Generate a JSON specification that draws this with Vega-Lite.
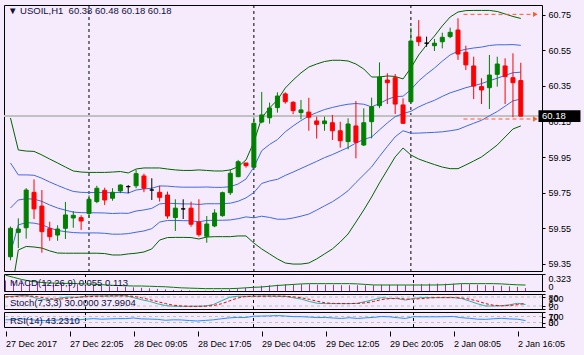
{
"$schema":"https://vega.github.io/schema/vega-lite/v6.json",
"autosize":{"type":"none"},
"padding":{"left":4,"top":5,"right":580,"bottom":350},
"background":"#F6EBFC",
"config":{
 "view":{"stroke":"#000000","strokeWidth":1},
 "font":"Liberation Sans",
 "axis":{"labelFont":"Liberation Sans","labelFontSize":9,"labelColor":"#000000","tickColor":"#000000","domain":false,"grid":false,"labelOverlap":false},
 "title":{"font":"Liberation Sans","fontSize":9.5,"fontWeight":"normal","color":"#10103a","anchor":"start","frame":"group","baseline":"middle"}
},
"datasets":{
 "seps":[{"s":10},{"s":31},{"s":51}],
 "lv":[{"p":60.752},{"p":60.164}],
 "bars":[
{"i":0,"o":59.39,"h":59.56,"l":59.37,"c":59.55,"d":"up","gu":60.170,"bu":59.917,"m":59.664,"bl":59.411,"gl":59.158,"md":0.20,"sg":0.30,"st":82,"ss":80,"rs":48},
{"i":1,"o":59.527,"h":59.606,"l":59.439,"c":59.546,"d":"up","gu":59.990,"bu":59.850,"m":59.709,"bl":59.569,"gl":59.428,"md":0.19,"sg":0.26,"st":85,"ss":82,"rs":49},
{"i":2,"o":59.553,"h":59.776,"l":59.492,"c":59.765,"d":"up","gu":59.984,"bu":59.850,"m":59.716,"bl":59.582,"gl":59.448,"md":0.19,"sg":0.22,"st":90,"ss":86,"rs":55},
{"i":3,"o":59.752,"h":59.825,"l":59.602,"c":59.659,"d":"down","gu":59.982,"bu":59.848,"m":59.714,"bl":59.579,"gl":59.445,"md":0.19,"sg":0.19,"st":86,"ss":87,"rs":50},
{"i":4,"o":59.675,"h":59.765,"l":59.413,"c":59.531,"d":"down","gu":59.962,"bu":59.831,"m":59.701,"bl":59.570,"gl":59.439,"md":0.18,"sg":0.17,"st":70,"ss":82,"rs":44},
{"i":5,"o":59.548,"h":59.587,"l":59.480,"c":59.503,"d":"down","gu":59.939,"bu":59.810,"m":59.681,"bl":59.552,"gl":59.423,"md":0.17,"sg":0.155,"st":62,"ss":73,"rs":43},
{"i":6,"o":59.512,"h":59.567,"l":59.480,"c":59.546,"d":"up","gu":59.917,"bu":59.791,"m":59.664,"bl":59.538,"gl":59.411,"md":0.16,"sg":0.15,"st":65,"ss":66,"rs":45},
{"i":7,"o":59.550,"h":59.698,"l":59.490,"c":59.625,"d":"up","gu":59.894,"bu":59.773,"m":59.652,"bl":59.531,"gl":59.410,"md":0.15,"sg":0.145,"st":75,"ss":67,"rs":48},
{"i":8,"o":59.608,"h":59.647,"l":59.553,"c":59.623,"d":"up","gu":59.872,"bu":59.757,"m":59.641,"bl":59.526,"gl":59.410,"md":0.14,"sg":0.145,"st":80,"ss":73,"rs":48},
{"i":9,"o":59.610,"h":59.623,"l":59.541,"c":59.591,"d":"down","gu":59.866,"bu":59.752,"m":59.638,"bl":59.524,"gl":59.410,"md":0.13,"sg":0.14,"st":78,"ss":78,"rs":47},
{"i":10,"o":59.634,"h":59.735,"l":59.610,"c":59.713,"d":"up","gu":59.864,"bu":59.751,"m":59.637,"bl":59.524,"gl":59.410,"md":0.12,"sg":0.135,"st":85,"ss":81,"rs":52},
{"i":11,"o":59.700,"h":59.789,"l":59.691,"c":59.775,"d":"up","gu":59.864,"bu":59.751,"m":59.637,"bl":59.524,"gl":59.410,"md":0.11,"sg":0.13,"st":88,"ss":84,"rs":56},
{"i":12,"o":59.763,"h":59.778,"l":59.681,"c":59.709,"d":"down","gu":59.864,"bu":59.750,"m":59.636,"bl":59.522,"gl":59.408,"md":0.10,"sg":0.12,"st":86,"ss":86,"rs":52},
{"i":13,"o":59.719,"h":59.775,"l":59.705,"c":59.752,"d":"up","gu":59.866,"bu":59.750,"m":59.633,"bl":59.517,"gl":59.400,"md":0.09,"sg":0.11,"st":87,"ss":87,"rs":54},
{"i":14,"o":59.760,"h":59.797,"l":59.747,"c":59.793,"d":"up","gu":59.869,"bu":59.752,"m":59.635,"bl":59.517,"gl":59.400,"md":0.08,"sg":0.105,"st":88,"ss":87,"rs":56},
{"i":15,"o":59.784,"h":59.793,"l":59.747,"c":59.784,"d":"doji","gu":59.861,"bu":59.748,"m":59.634,"bl":59.520,"gl":59.406,"md":0.08,"sg":0.10,"st":88,"ss":88,"rs":56},
{"i":16,"o":59.789,"h":59.878,"l":59.775,"c":59.857,"d":"up","gu":59.883,"bu":59.765,"m":59.647,"bl":59.528,"gl":59.410,"md":0.07,"sg":0.095,"st":76,"ss":84,"rs":60},
{"i":17,"o":59.844,"h":59.857,"l":59.753,"c":59.775,"d":"down","gu":59.889,"bu":59.771,"m":59.653,"bl":59.535,"gl":59.417,"md":0.06,"sg":0.095,"st":62,"ss":75,"rs":54},
{"i":18,"o":59.765,"h":59.831,"l":59.709,"c":59.765,"d":"doji","gu":59.889,"bu":59.775,"m":59.662,"bl":59.548,"gl":59.434,"md":0.05,"sg":0.09,"st":51,"ss":63,"rs":53},
{"i":19,"o":59.752,"h":59.789,"l":59.700,"c":59.724,"d":"down","gu":59.889,"bu":59.788,"m":59.687,"bl":59.585,"gl":59.484,"md":0.04,"sg":0.085,"st":35,"ss":49,"rs":51},
{"i":20,"o":59.737,"h":59.756,"l":59.604,"c":59.619,"d":"down","gu":59.883,"bu":59.787,"m":59.691,"bl":59.594,"gl":59.498,"md":0.03,"sg":0.08,"st":23,"ss":36,"rs":45},
{"i":21,"o":59.610,"h":59.713,"l":59.535,"c":59.663,"d":"up","gu":59.878,"bu":59.783,"m":59.689,"bl":59.594,"gl":59.499,"md":0.02,"sg":0.07,"st":18,"ss":25,"rs":48},
{"i":22,"o":59.659,"h":59.713,"l":59.602,"c":59.659,"d":"doji","gu":59.875,"bu":59.781,"m":59.687,"bl":59.593,"gl":59.499,"md":0.02,"sg":0.06,"st":18,"ss":20,"rs":47},
{"i":23,"o":59.663,"h":59.700,"l":59.559,"c":59.573,"d":"down","gu":59.875,"bu":59.781,"m":59.687,"bl":59.592,"gl":59.498,"md":0.01,"sg":0.055,"st":18,"ss":18,"rs":43},
{"i":24,"o":59.585,"h":59.713,"l":59.503,"c":59.514,"d":"down","gu":59.878,"bu":59.781,"m":59.684,"bl":59.587,"gl":59.490,"md":0.005,"sg":0.05,"st":18,"ss":18,"rs":40},
{"i":25,"o":59.505,"h":59.619,"l":59.469,"c":59.574,"d":"up","gu":59.875,"bu":59.782,"m":59.688,"bl":59.594,"gl":59.501,"md":0.005,"sg":0.045,"st":20,"ss":19,"rs":44},
{"i":26,"o":59.563,"h":59.657,"l":59.556,"c":59.636,"d":"up","gu":59.872,"bu":59.780,"m":59.688,"bl":59.595,"gl":59.503,"md":0.01,"sg":0.045,"st":30,"ss":23,"rs":48},
{"i":27,"o":59.621,"h":59.756,"l":59.615,"c":59.750,"d":"up","gu":59.872,"bu":59.780,"m":59.688,"bl":59.595,"gl":59.503,"md":0.02,"sg":0.045,"st":55,"ss":35,"rs":55},
{"i":28,"o":59.750,"h":59.881,"l":59.737,"c":59.859,"d":"up","gu":59.878,"bu":59.784,"m":59.691,"bl":59.597,"gl":59.503,"md":0.03,"sg":0.045,"st":78,"ss":54,"rs":61},
{"i":29,"o":59.840,"h":59.934,"l":59.837,"c":59.924,"d":"up","gu":59.896,"bu":59.799,"m":59.702,"bl":59.604,"gl":59.507,"md":0.05,"sg":0.05,"st":85,"ss":73,"rs":64},
{"i":30,"o":59.917,"h":59.917,"l":59.891,"c":59.902,"d":"down","gu":59.934,"bu":59.827,"m":59.721,"bl":59.614,"gl":59.507,"md":0.06,"sg":0.06,"st":85,"ss":83,"rs":63},
{"i":31,"o":59.893,"h":60.174,"l":59.887,"c":60.140,"d":"up","gu":60.035,"bu":59.893,"m":59.751,"bl":59.609,"gl":59.467,"md":0.08,"sg":0.07,"st":85,"ss":85,"rs":72},
{"i":32,"o":60.147,"h":60.316,"l":60.140,"c":60.187,"d":"up","gu":60.170,"bu":59.986,"m":59.802,"bl":59.618,"gl":59.434,"md":0.10,"sg":0.076,"st":86,"ss":85,"rs":73},
{"i":33,"o":60.171,"h":60.256,"l":60.138,"c":60.226,"d":"up","gu":60.226,"bu":60.021,"m":59.816,"bl":59.611,"gl":59.406,"md":0.11,"sg":0.09,"st":86,"ss":86,"rs":74},
{"i":34,"o":60.228,"h":60.314,"l":60.200,"c":60.293,"d":"up","gu":60.271,"bu":60.048,"m":59.825,"bl":59.601,"gl":59.378,"md":0.12,"sg":0.105,"st":85,"ss":86,"rs":76},
{"i":35,"o":60.305,"h":60.314,"l":60.250,"c":60.261,"d":"down","gu":60.338,"bu":60.092,"m":59.847,"bl":59.601,"gl":59.355,"md":0.13,"sg":0.115,"st":84,"ss":85,"rs":73},
{"i":36,"o":60.258,"h":60.264,"l":60.191,"c":60.211,"d":"down","gu":60.383,"bu":60.125,"m":59.866,"bl":59.608,"gl":59.349,"md":0.13,"sg":0.125,"st":75,"ss":81,"rs":69},
{"i":37,"o":60.200,"h":60.271,"l":60.163,"c":60.215,"d":"up","gu":60.423,"bu":60.155,"m":59.886,"bl":59.618,"gl":59.349,"md":0.13,"sg":0.135,"st":66,"ss":75,"rs":69},
{"i":38,"o":60.203,"h":60.283,"l":60.098,"c":60.174,"d":"down","gu":60.456,"bu":60.181,"m":59.906,"bl":59.630,"gl":59.355,"md":0.13,"sg":0.14,"st":50,"ss":64,"rs":66},
{"i":39,"o":60.153,"h":60.177,"l":60.054,"c":60.134,"d":"down","gu":60.473,"bu":60.200,"m":59.926,"bl":59.652,"gl":59.378,"md":0.12,"sg":0.14,"st":38,"ss":51,"rs":63},
{"i":40,"o":60.138,"h":60.177,"l":60.098,"c":60.153,"d":"up","gu":60.487,"bu":60.217,"m":59.947,"bl":59.676,"gl":59.406,"md":0.12,"sg":0.14,"st":36,"ss":41,"rs":64},
{"i":41,"o":60.143,"h":60.187,"l":60.046,"c":60.098,"d":"down","gu":60.494,"bu":60.229,"m":59.964,"bl":59.699,"gl":59.434,"md":0.12,"sg":0.14,"st":36,"ss":37,"rs":60},
{"i":42,"o":60.098,"h":60.149,"l":60.003,"c":60.042,"d":"down","gu":60.494,"bu":60.239,"m":59.984,"bl":59.728,"gl":59.473,"md":0.11,"sg":0.14,"st":36,"ss":36,"rs":57},
{"i":43,"o":60.037,"h":60.168,"l":59.994,"c":60.136,"d":"up","gu":60.490,"bu":60.247,"m":60.004,"bl":59.761,"gl":59.518,"md":0.11,"sg":0.14,"st":36,"ss":36,"rs":62},
{"i":44,"o":60.125,"h":60.265,"l":59.943,"c":60.033,"d":"down","gu":60.473,"bu":60.251,"m":60.029,"bl":59.807,"gl":59.585,"md":0.11,"sg":0.135,"st":38,"ss":37,"rs":57},
{"i":45,"o":60.018,"h":60.224,"l":60.012,"c":60.143,"d":"up","gu":60.445,"bu":60.247,"m":60.049,"bl":59.851,"gl":59.653,"md":0.11,"sg":0.125,"st":50,"ss":41,"rs":61},
{"i":46,"o":60.149,"h":60.284,"l":60.055,"c":60.233,"d":"up","gu":60.400,"bu":60.232,"m":60.063,"bl":59.895,"gl":59.726,"md":0.11,"sg":0.115,"st":62,"ss":50,"rs":64},
{"i":47,"o":60.239,"h":60.482,"l":60.225,"c":60.400,"d":"up","gu":60.400,"bu":60.251,"m":60.103,"bl":59.954,"gl":59.805,"md":0.12,"sg":0.114,"st":76,"ss":63,"rs":70},
{"i":48,"o":60.383,"h":60.421,"l":60.248,"c":60.368,"d":"down","gu":60.406,"bu":60.274,"m":60.142,"bl":60.010,"gl":59.878,"md":0.12,"sg":0.114,"st":70,"ss":69,"rs":68},
{"i":49,"o":60.396,"h":60.417,"l":60.192,"c":60.248,"d":"down","gu":60.403,"bu":60.290,"m":60.177,"bl":60.064,"gl":59.951,"md":0.12,"sg":0.114,"st":69,"ss":72,"rs":62},
{"i":50,"o":60.243,"h":60.280,"l":60.136,"c":60.140,"d":"down","gu":60.389,"bu":60.292,"m":60.195,"bl":60.098,"gl":60.001,"md":0.11,"sg":0.114,"st":60,"ss":66,"rs":57},
{"i":51,"o":60.261,"h":60.677,"l":60.252,"c":60.602,"d":"up","gu":60.451,"bu":60.329,"m":60.207,"bl":60.084,"gl":59.962,"md":0.13,"sg":0.114,"st":70,"ss":66,"rs":69},
{"i":52,"o":60.625,"h":60.720,"l":60.574,"c":60.598,"d":"down","gu":60.524,"bu":60.378,"m":60.232,"bl":60.085,"gl":59.939,"md":0.13,"sg":0.114,"st":76,"ss":69,"rs":68},
{"i":53,"o":60.590,"h":60.627,"l":60.570,"c":60.590,"d":"doji","gu":60.580,"bu":60.416,"m":60.252,"bl":60.087,"gl":59.923,"md":0.14,"sg":0.114,"st":76,"ss":74,"rs":68},
{"i":54,"o":60.576,"h":60.614,"l":60.546,"c":60.590,"d":"up","gu":60.630,"bu":60.450,"m":60.269,"bl":60.089,"gl":59.908,"md":0.14,"sg":0.115,"st":76,"ss":76,"rs":68},
{"i":55,"o":60.598,"h":60.649,"l":60.561,"c":60.623,"d":"up","gu":60.687,"bu":60.489,"m":60.291,"bl":60.092,"gl":59.894,"md":0.14,"sg":0.12,"st":76,"ss":76,"rs":69},
{"i":56,"o":60.627,"h":60.677,"l":60.618,"c":60.651,"d":"up","gu":60.737,"bu":60.524,"m":60.311,"bl":60.098,"gl":59.885,"md":0.14,"sg":0.13,"st":76,"ss":76,"rs":70},
{"i":57,"o":60.664,"h":60.730,"l":60.496,"c":60.529,"d":"down","gu":60.765,"bu":60.545,"m":60.325,"bl":60.105,"gl":59.885,"md":0.14,"sg":0.14,"st":70,"ss":74,"rs":62},
{"i":58,"o":60.539,"h":60.576,"l":60.439,"c":60.468,"d":"down","gu":60.773,"bu":60.556,"m":60.340,"bl":60.123,"gl":59.906,"md":0.13,"sg":0.14,"st":53,"ss":66,"rs":58},
{"i":59,"o":60.462,"h":60.514,"l":60.276,"c":60.349,"d":"down","gu":60.774,"bu":60.563,"m":60.351,"bl":60.140,"gl":59.928,"md":0.12,"sg":0.14,"st":35,"ss":53,"rs":52},
{"i":60,"o":60.346,"h":60.393,"l":60.248,"c":60.327,"d":"down","gu":60.774,"bu":60.568,"m":60.363,"bl":60.157,"gl":59.951,"md":0.11,"sg":0.14,"st":20,"ss":36,"rs":51},
{"i":61,"o":60.340,"h":60.524,"l":60.220,"c":60.411,"d":"up","gu":60.774,"bu":60.577,"m":60.379,"bl":60.182,"gl":59.984,"md":0.10,"sg":0.14,"st":20,"ss":25,"rs":55},
{"i":62,"o":60.415,"h":60.514,"l":60.346,"c":60.473,"d":"up","gu":60.768,"bu":60.581,"m":60.393,"bl":60.206,"gl":60.018,"md":0.10,"sg":0.135,"st":22,"ss":21,"rs":58},
{"i":63,"o":60.462,"h":60.505,"l":60.248,"c":60.402,"d":"down","gu":60.754,"bu":60.581,"m":60.409,"bl":60.236,"gl":60.063,"md":0.09,"sg":0.125,"st":28,"ss":23,"rs":54},
{"i":64,"o":60.396,"h":60.533,"l":60.174,"c":60.368,"d":"down","gu":60.740,"bu":60.582,"m":60.424,"bl":60.266,"gl":60.108,"md":0.08,"sg":0.118,"st":38,"ss":29,"rs":52},
{"i":65,"o":60.38,"h":60.48,"l":60.18,"c":60.18,"d":"down","gu":60.729,"bu":60.578,"m":60.427,"bl":60.276,"gl":60.125,"md":0.055,"sg":0.113,"st":30,"ss":37.99,"rs":43.23}
 ]
},
"spacing":3,
"bounds":"flush",
"vconcat":[
 {
  "width":538,"height":266,
  "title":{"text":"▼ USOIL,H1\u00a0\u00a060.38 60.48 60.18 60.18","dx":4,"offset":-11.3},
  "data":{"name":"bars"},
  "layer":[
   {"data":{"name":"seps"},"mark":{"type":"rule","color":"#000000","strokeDash":[3,3]},
    "encoding":{"x":{"field":"s","type":"quantitative","scale":{"domain":[-0.1875,67.0625],"nice":false,"zero":false},"axis":null}}},
   {"mark":{"type":"rule","color":"#C0C0C0"},
    "encoding":{"y":{"datum":60.18,"type":"quantitative","scale":{"domain":[59.3101,60.8045],"nice":false,"zero":false},
     "axis":{"orient":"right","values":[59.35,59.55,59.75,59.95,60.15,60.35,60.55,60.75],"format":".2f","tickSize":3,"labelPadding":3,"title":null}}}},
   {"mark":{"type":"line","color":"#006400","strokeWidth":1,"clip":true},
    "encoding":{"x":{"field":"i","type":"quantitative","axis":null},"y":{"field":"gu","type":"quantitative","axis":{"orient":"right","values":[59.35,59.55,59.75,59.95,60.15,60.35,60.55,60.75],"format":".2f","tickSize":3,"labelPadding":3,"title":null}}}},
   {"mark":{"type":"line","color":"#006400","strokeWidth":1,"clip":true},
    "encoding":{"x":{"field":"i","type":"quantitative","axis":null},"y":{"field":"gl","type":"quantitative","axis":{"orient":"right","values":[59.35,59.55,59.75,59.95,60.15,60.35,60.55,60.75],"format":".2f","tickSize":3,"labelPadding":3,"title":null}}}},
   {"mark":{"type":"line","color":"#4169E1","strokeWidth":1,"clip":true},
    "encoding":{"x":{"field":"i","type":"quantitative","axis":null},"y":{"field":"bu","type":"quantitative","axis":{"orient":"right","values":[59.35,59.55,59.75,59.95,60.15,60.35,60.55,60.75],"format":".2f","tickSize":3,"labelPadding":3,"title":null}}}},
   {"mark":{"type":"line","color":"#4169E1","strokeWidth":1,"clip":true},
    "encoding":{"x":{"field":"i","type":"quantitative","axis":null},"y":{"field":"m","type":"quantitative","axis":{"orient":"right","values":[59.35,59.55,59.75,59.95,60.15,60.35,60.55,60.75],"format":".2f","tickSize":3,"labelPadding":3,"title":null}}}},
   {"mark":{"type":"line","color":"#4169E1","strokeWidth":1,"clip":true},
    "encoding":{"x":{"field":"i","type":"quantitative","axis":null},"y":{"field":"bl","type":"quantitative","axis":{"orient":"right","values":[59.35,59.55,59.75,59.95,60.15,60.35,60.55,60.75],"format":".2f","tickSize":3,"labelPadding":3,"title":null}}}},
   {"mark":{"type":"rule","strokeWidth":1},
    "encoding":{"x":{"field":"i","type":"quantitative","axis":null},"y":{"field":"l","type":"quantitative","axis":{"orient":"right","values":[59.35,59.55,59.75,59.95,60.15,60.35,60.55,60.75],"format":".2f","tickSize":3,"labelPadding":3,"title":null}},"y2":{"field":"h"},
     "color":{"field":"d","type":"nominal","scale":{"domain":["up","down","doji"],"range":["#008000","#FF0000","#000000"]},"legend":null}}},
   {"mark":{"type":"bar","size":4,"strokeWidth":1},
    "encoding":{"x":{"field":"i","type":"quantitative","axis":null},"y":{"field":"o","type":"quantitative","axis":{"orient":"right","values":[59.35,59.55,59.75,59.95,60.15,60.35,60.55,60.75],"format":".2f","tickSize":3,"labelPadding":3,"title":null}},"y2":{"field":"c"},
     "color":{"field":"d","type":"nominal","scale":{"domain":["up","down","doji"],"range":["#008000","#FF0000","#000000"]},"legend":null},
     "stroke":{"field":"d","type":"nominal","scale":{"domain":["up","down","doji"],"range":["#008000","#FF0000","#000000"]},"legend":null}}},
   {"data":{"name":"lv"},"mark":{"type":"rule","color":"#FF5A1E","strokeDash":[4,3]},
    "encoding":{"x":{"datum":57.7,"type":"quantitative","axis":null},"x2":{"datum":66.4},"y":{"field":"p","type":"quantitative","axis":{"orient":"right","values":[59.35,59.55,59.75,59.95,60.15,60.35,60.55,60.75],"format":".2f","tickSize":3,"labelPadding":3,"title":null}}}},
   {"data":{"name":"lv"},"mark":{"type":"point","shape":"triangle-right","filled":true,"color":"#FF5A1E","size":28,"opacity":1},
    "encoding":{"x":{"datum":66.85,"type":"quantitative","axis":null},"y":{"field":"p","type":"quantitative","axis":{"orient":"right","values":[59.35,59.55,59.75,59.95,60.15,60.35,60.55,60.75],"format":".2f","tickSize":3,"labelPadding":3,"title":null}}}},
   {"data":{"values":[{"p":60.18}]},"mark":{"type":"rect","color":"#000000"},
    "encoding":{"x":{"datum":67.25,"type":"quantitative","axis":null},"x2":{"datum":72.6},"y":{"datum":60.213,"type":"quantitative","axis":{"orient":"right","values":[59.35,59.55,59.75,59.95,60.15,60.35,60.55,60.75],"format":".2f","tickSize":3,"labelPadding":3,"title":null}},"y2":{"datum":60.147}}},
   {"data":{"values":[{"p":60.18}]},"mark":{"type":"text","color":"#FFFFFF","align":"left","baseline":"middle","font":"Liberation Sans","fontSize":9.5},
    "encoding":{"x":{"datum":67.7,"type":"quantitative","axis":null},"y":{"field":"p","type":"quantitative","axis":{"orient":"right","values":[59.35,59.55,59.75,59.95,60.15,60.35,60.55,60.75],"format":".2f","tickSize":3,"labelPadding":3,"title":null}},"text":{"field":"p","type":"quantitative","format":".2f"}}}
  ]
 },
 {
  "width":538,"height":17,
  "title":{"text":"MACD(12,26,9) 0.055 0.113","dx":6,"offset":-14},
  "data":{"name":"bars"},
  "layer":[
   {"data":{"name":"seps"},"mark":{"type":"rule","color":"#000000","strokeDash":[3,3]},
    "encoding":{"x":{"field":"s","type":"quantitative","scale":{"domain":[-0.1875,67.0625],"nice":false,"zero":false},"axis":null}}},
   {"mark":{"type":"rule","color":"#9932CC","strokeWidth":1},
    "encoding":{"x":{"field":"i","type":"quantitative","axis":null},
     "y":{"field":"md","type":"quantitative","scale":{"domain":[0,0.323],"nice":false,"zero":false},
      "axis":{"orient":"right","values":[0,0.323],"labelExpr":"datum.value == 0 ? '0' : '0.323'","labelFlush":true,"tickSize":3,"labelPadding":3,"title":null}},
     "y2":{"datum":0}}},
   {"mark":{"type":"line","color":"#008000","strokeWidth":1},
    "encoding":{"x":{"field":"i","type":"quantitative","axis":null},"y":{"field":"sg","type":"quantitative","axis":{"orient":"right","values":[0,0.323],"labelExpr":"datum.value == 0 ? '0' : '0.323'","labelFlush":true,"tickSize":3,"labelPadding":3,"title":null}}}}
  ]
 },
 {
  "width":538,"height":15,
  "title":{"text":"Stoch(7,3,3) 30.0000 37.9904","dx":6,"offset":-14},
  "data":{"name":"bars"},
  "layer":[
   {"data":{"name":"seps"},"mark":{"type":"rule","color":"#000000","strokeDash":[3,3]},
    "encoding":{"x":{"field":"s","type":"quantitative","scale":{"domain":[-0.1875,67.0625],"nice":false,"zero":false},"axis":null}}},
   {"data":{"values":[{"v":20},{"v":80}]},"mark":{"type":"rule","color":"#C0C0C0","strokeDash":[3,3]},
    "encoding":{"y":{"field":"v","type":"quantitative","scale":{"domain":[0,100],"nice":false,"zero":false},
     "axis":{"orient":"right","values":[0,20,80,100],"labelFlush":true,"tickSize":3,"labelPadding":3,"title":null}}}},
   {"mark":{"type":"line","color":"#20B2AA","strokeWidth":1},
    "encoding":{"x":{"field":"i","type":"quantitative","axis":null},"y":{"field":"st","type":"quantitative","axis":{"orient":"right","values":[0,20,80,100],"labelFlush":true,"tickSize":3,"labelPadding":3,"title":null}}}},
   {"mark":{"type":"line","color":"#FF0000","strokeWidth":1,"strokeDash":[3,2]},
    "encoding":{"x":{"field":"i","type":"quantitative","axis":null},"y":{"field":"ss","type":"quantitative","axis":{"orient":"right","values":[0,20,80,100],"labelFlush":true,"tickSize":3,"labelPadding":3,"title":null}}}}
  ]
 },
 {
  "width":538,"height":15,
  "title":{"text":"RSI(14) 43.2310","dx":6,"offset":-13.5},
  "data":{"name":"bars"},
  "layer":[
   {"data":{"name":"seps"},"mark":{"type":"rule","color":"#000000","strokeDash":[3,3]},
    "encoding":{"x":{"field":"s","type":"quantitative","scale":{"domain":[-0.1875,67.0625],"nice":false,"zero":false},
     "axis":{"orient":"bottom","values":[0,8,16,24,32,40,48,56,64],"labelExpr":"['27 Dec 2017','27 Dec 22:05','28 Dec 09:05','28 Dec 17:05','29 Dec 04:05','29 Dec 12:05','29 Dec 20:05','2 Jan 08:05','2 Jan 16:05'][round(datum.value/8)]","labelAlign":"left","tickSize":5,"offset":4,"labelPadding":3,"labelFlush":false,"title":null}}}},
   {"data":{"values":[{"v":30},{"v":70}]},"mark":{"type":"rule","color":"#C0C0C0","strokeDash":[3,3]},
    "encoding":{"y":{"field":"v","type":"quantitative","scale":{"domain":[0,100],"nice":false,"zero":false},
     "axis":{"orient":"right","values":[0,30,70,100],"labelFlush":true,"tickSize":3,"labelPadding":3,"title":null}}}},
   {"mark":{"type":"line","color":"#1E90FF","strokeWidth":1},
    "encoding":{"x":{"field":"i","type":"quantitative","axis":{"orient":"bottom","values":[0,8,16,24,32,40,48,56,64],"labelExpr":"['27 Dec 2017','27 Dec 22:05','28 Dec 09:05','28 Dec 17:05','29 Dec 04:05','29 Dec 12:05','29 Dec 20:05','2 Jan 08:05','2 Jan 16:05'][round(datum.value/8)]","labelAlign":"left","tickSize":5,"offset":4,"labelPadding":3,"labelFlush":false,"title":null}},"y":{"field":"rs","type":"quantitative","axis":{"orient":"right","values":[0,30,70,100],"labelFlush":true,"tickSize":3,"labelPadding":3,"title":null}}}}
  ]
 }
]
}
